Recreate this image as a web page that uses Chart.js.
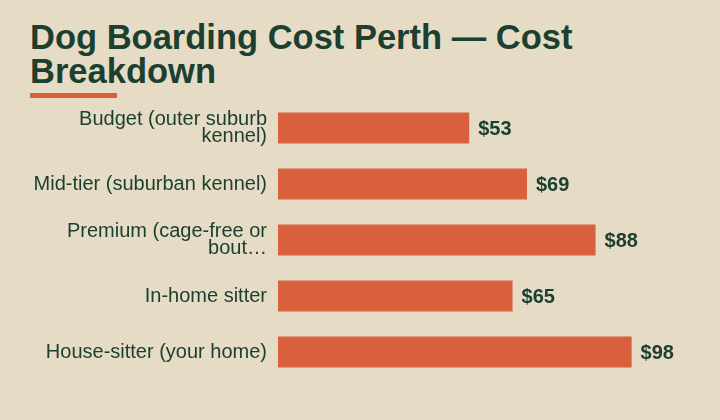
<!DOCTYPE html>
<html>
<head>
<meta charset="utf-8">
<script src="https://cdn.jsdelivr.net/npm/chart.js@4.4.0/dist/chart.umd.min.js"></script>
<style>
  html, body { margin: 0; padding: 0; background: #e6dcc5; }
  body { width: 720px; height: 420px; position: relative; overflow: hidden; font-family: "Liberation Sans", Arial, sans-serif; }
  h1 { position: absolute; left: 30px; top: 20px; width: 660px; margin: 0; font-size: 34.5px; line-height: 34px; font-weight: bold; color: #1c4030; }
  .rule { position: absolute; left: 30px; top: 93px; width: 87px; height: 5px; background: #d9603d; }
  .wrap { position: absolute; left: 0; top: 0; width: 720px; height: 420px; }
</style>
</head>
<body>
<h1>Dog Boarding Cost Perth — Cost Breakdown</h1>
<div class="rule"></div>
<div class="wrap"><canvas id="costChart"></canvas></div>
<script>
// Categories and costs (AUD per night)
const categories = ['Budget (outer suburb kennel)', 'Mid-tier (suburban kennel)', 'Premium (cage-free or boutique)', 'In-home sitter', 'House-sitter (your home)'];
const tickLabels = [['Budget (outer suburb', 'kennel)'], 'Mid-tier (suburban kennel)', ['Premium (cage-free or', 'bout…'], 'In-home sitter', 'House-sitter (your home)'];
const costs = [53, 69, 88, 65, 98];

const ink = '#1c4030';
const barColor = '#d9603d';

// draws "$xx" just past the end of each bar
const valueLabels = {
    id: 'valueLabels',
    afterDatasetsDraw(chart) {
        const ctx = chart.ctx;
        const meta = chart.getDatasetMeta(0);
        ctx.save();
        ctx.font = 'bold 20px "Liberation Sans", Arial, sans-serif';
        ctx.fillStyle = ink;
        ctx.textAlign = 'left';
        ctx.textBaseline = 'middle';
        meta.data.forEach((bar, i) => {
            ctx.fillText('$' + costs[i], bar.x + 9, bar.y + 1);
        });
        ctx.restore();
    }
};

const ctx = document.getElementById('costChart').getContext('2d');
const costChart = new Chart(ctx, {
    type: 'bar',
    data: {
        labels: tickLabels,
        datasets: [{
            label: 'Cost',
            data: costs,
            backgroundColor: barColor,
            borderWidth: 0,
            categoryPercentage: 0.8,
            barPercentage: 0.69
        }]
    },
    options: {
        indexAxis: 'y',
        responsive: true,
        maintainAspectRatio: false,
        animation: false,
        layout: {
            padding: { top: 100, bottom: 40, left: 0, right: 9 }
        },
        plugins: {
            legend: { display: false },
            tooltip: { enabled: false }
        },
        scales: {
            x: {
                display: false,
                min: 0,
                max: 120
            },
            y: {
                afterFit(scale) { scale.width = 278; },
                grid: { display: false, drawTicks: false },
                border: { display: false },
                ticks: {
                    color: ink,
                    padding: 11,
                    font: { family: '"Liberation Sans", Arial, sans-serif', size: 20, lineHeight: 0.87 }
                }
            }
        }
    },
    plugins: [valueLabels]
});
</script>
</body>
</html>
